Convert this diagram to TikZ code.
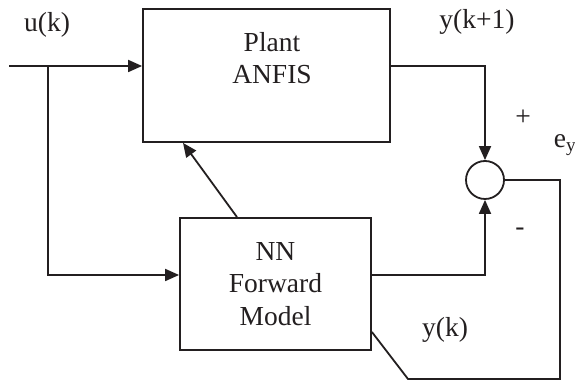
\documentclass[tikz,border=0pt]{standalone}
\usepackage{fontspec}
\setmainfont{Liberation Serif}
\usetikzlibrary{arrows.meta}
\definecolor{ink}{HTML}{231F20}
\begin{document}
\begin{tikzpicture}[x=1pt,y=1pt,
  line width=1.8pt, draw=ink,
  blk/.style={draw=ink, line width=1.8pt, rectangle, inner sep=0pt},
  lbl/.style={text=ink, font=\fontsize{27.5}{32.5}\selectfont, inner sep=0pt, align=center},
  sig/.style={-{Triangle[length=14pt,width=12pt]}, draw=ink, line width=1.8pt},
  wire/.style={draw=ink, line width=1.8pt}]
\useasboundingbox (0,0) rectangle (575,390);
\fill[white] (0,0) rectangle (575,390);

% blocks
\node[blk, minimum width=247pt, minimum height=133pt] (plant) at (266.5,314.5) {};
\node[lbl] (plantlbl) at (272,332) {Plant\\ANFIS};
\node[blk, minimum width=191pt, minimum height=132pt, lbl] (nn) at (275.5,106) {NN\\Forward\\Model};
\node[draw=ink, line width=1.8pt, circle, minimum size=38pt, inner sep=0pt] (sum) at (485,210) {};

% auxiliary points
\coordinate (in) at (9,324);
\coordinate (br) at (48,324);
\coordinate (fbr) at (560,210);
\coordinate (fbb) at (408,11);

% connectors
\draw[sig] (in) -- (in -| plant.west);
\draw[sig] (br) |- (nn.west |- 0,115);
\draw[sig] (plant.east |- in) -| (sum.north);
\draw[sig] (nn.east |- 0,115) -| (sum.south);
\draw[sig] (nn.north -| 237,0) -- (plant.south -| 183,0);
\draw[wire] (sum.east) -- (fbr) |- (fbb) -- (nn.east |- 0,58);

% labels
\node[lbl] (ulbl) at (47,365) {u(k)};
\node[lbl] (y1lbl) at (477,368) {y(k+1)};
\node[lbl] (plus) at (523,272) {+};
\node[lbl, anchor=base west] (eylbl) at (553,242) {e\textsubscript{y}};
\node[lbl] (minus) at (520,158) {-};
\node[lbl] (yklbl) at (445,60) {y(k)};
\end{tikzpicture}
\end{document}
